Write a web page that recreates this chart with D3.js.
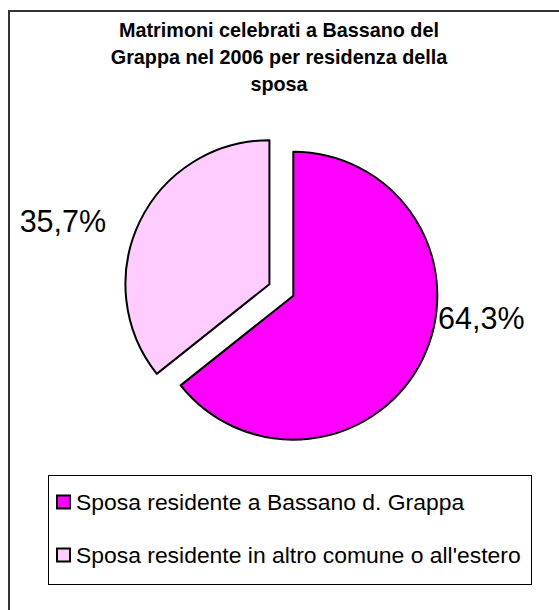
<!DOCTYPE html>
<html><head><meta charset="utf-8">
<script src="https://cdn.jsdelivr.net/npm/d3@7"></script>
<style>body{margin:0;background:#fff}svg{display:block}</style>
</head><body>
<svg id="c" width="559" height="610"></svg>
<script>
const titleLines = ["Matrimoni celebrati a Bassano del", "Grappa nel 2006 per residenza della", "sposa"];
const categories = ["Sposa residente a Bassano d. Grappa", "Sposa residente in altro comune o all'estero"];
const values = [64.3, 35.7];
const labels = ["64,3%", "35,7%"];
const colors = ["#FF00FF", "#FFCCFF"];

const svg = d3.select("#c");
const font = "'Liberation Sans', Arial, sans-serif";

// outer frame
svg.append("rect").attr("x", 9).attr("y", 11).attr("width", 600).attr("height", 650)
  .attr("fill", "#fff").attr("stroke", "#333").attr("stroke-width", 2);

// title
svg.append("g").selectAll("text").data(titleLines).join("text")
  .attr("x", 279).attr("y", (d, i) => 37 + i * 27)
  .attr("text-anchor", "middle").attr("font-family", font).attr("font-weight", "bold")
  .attr("font-size", 19.8).attr("fill", "#000").text(d => d);

// pie
const cx = 293.3, cy = 295.7, r = 144, explode = 26.5;
const pie = d3.pie().sort(null).value(d => d)(values);
const arc = d3.arc().innerRadius(0).outerRadius(r);
const g = svg.append("g").attr("transform", `translate(${cx},${cy})`);
pie.forEach((p, i) => {
  const mid = (p.startAngle + p.endAngle) / 2;
  const off = i === 1 ? d3.pointRadial(mid, explode) : [0, 0];
  g.append("path").attr("d", arc(p)).attr("transform", `translate(${off[0]},${off[1]})`)
    .attr("fill", colors[i]).attr("stroke", "#000").attr("stroke-width", 2).attr("stroke-linejoin", "round");
  const right = Math.sin(mid) > 0;
  const lp = right ? d3.pointRadial(Math.PI * 0.549, r + 2.5) : d3.pointRadial(Math.PI * 1.617, r + 31);
  g.append("text").attr("x", lp[0] + off[0]).attr("y", lp[1] + off[1])
    .attr("text-anchor", right ? "start" : "end").attr("dominant-baseline", "central")
    .attr("font-family", font).attr("font-size", 30.5).attr("fill", "#000").text(labels[i]);
});

// legend
const lg = svg.append("g");
lg.append("rect").attr("x", 48.5).attr("y", 475.5).attr("width", 483).attr("height", 109)
  .attr("fill", "#fff").attr("stroke", "#000").attr("stroke-width", 1);
const ly = d3.scalePoint().domain(categories).range([502, 555]);
categories.forEach((c, i) => {
  lg.append("rect").attr("x", 57).attr("y", ly(c) - 6.5).attr("width", 13).attr("height", 13)
    .attr("fill", colors[i]).attr("stroke", "#000").attr("stroke-width", 2);
  lg.append("text").attr("x", 76).attr("y", ly(c)).attr("dominant-baseline", "central")
    .attr("font-family", font).attr("font-size", 22.9).attr("fill", "#000").text(c);
});
</script>
</body></html>
